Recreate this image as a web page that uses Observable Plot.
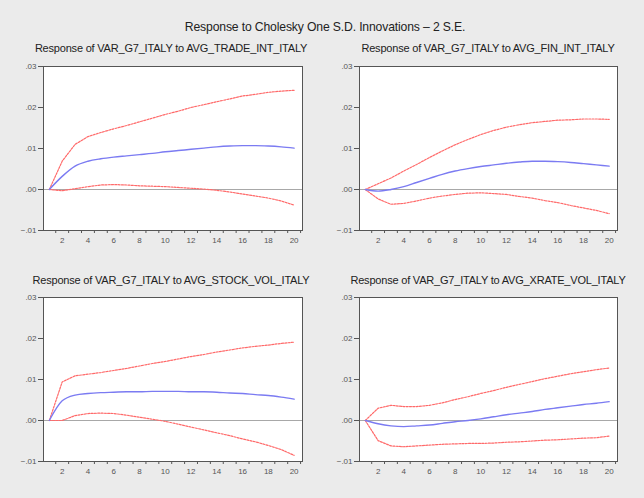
<!DOCTYPE html>
<html>
<head>
<meta charset="utf-8">
<script src="https://cdn.jsdelivr.net/npm/d3@7"></script>
<script src="https://cdn.jsdelivr.net/npm/@observablehq/plot@0.6"></script>
<style>
  html, body { margin: 0; padding: 0; background: #ebebeb; }
  #chart { position: relative; width: 644px; height: 498px; background: #ebebeb;
           font-family: "Liberation Sans", Arial, sans-serif; color: #222; overflow: hidden; }
  .title { position: absolute; white-space: nowrap; transform: translateX(-50%); }
  .main { font-size: 12.2px; top: 20px; left: 325px; letter-spacing: -0.15px; }
  .sub { font-size: 11px; letter-spacing: -0.2px; }
  .panel { position: absolute; }
</style>
</head>
<body>
<div id="chart"></div>
<script>
// Forecast horizon (periods)
const periods = [1, 2, 3, 4, 5, 6, 7, 8, 9, 10, 11, 12, 13, 14, 15, 16, 17, 18, 19, 20];

// Response of VAR_G7_ITALY to AVG_TRADE_INT_ITALY
const tradeResp  = [0, 0.0032, 0.0057, 0.0069, 0.0075, 0.0079, 0.0082, 0.0085, 0.0088, 0.0092, 0.0095, 0.0098, 0.0101, 0.0104, 0.0106, 0.0107, 0.0107, 0.0106, 0.0104, 0.0101];
const tradeUpper = [0, 0.0069, 0.0110, 0.0129, 0.0139, 0.0148, 0.0156, 0.0165, 0.0174, 0.0183, 0.0191, 0.0200, 0.0207, 0.0214, 0.0221, 0.0228, 0.0232, 0.0237, 0.0240, 0.0242];
const tradeLower = [0, -0.0003, 0.0002, 0.0007, 0.0011, 0.0012, 0.0011, 0.0009, 0.0008, 0.0007, 0.0005, 0.0003, 0.0001, -0.0002, -0.0006, -0.0011, -0.0016, -0.0021, -0.0028, -0.0038];

// Response of VAR_G7_ITALY to AVG_FIN_INT_ITALY
const finResp  = [0, -0.0004, 0.0000, 0.0007, 0.0017, 0.0027, 0.0037, 0.0045, 0.0051, 0.0056, 0.0060, 0.0064, 0.0067, 0.0069, 0.0069, 0.0068, 0.0066, 0.0063, 0.0060, 0.0057];
const finUpper = [0, 0.0014, 0.0028, 0.0045, 0.0061, 0.0078, 0.0094, 0.0109, 0.0122, 0.0134, 0.0144, 0.0152, 0.0158, 0.0163, 0.0166, 0.0169, 0.0170, 0.0172, 0.0172, 0.0171];
const finLower = [0, -0.0023, -0.0036, -0.0034, -0.0028, -0.0021, -0.0016, -0.0012, -0.0009, -0.0008, -0.0010, -0.0012, -0.0017, -0.0021, -0.0027, -0.0032, -0.0039, -0.0045, -0.0051, -0.0059];

// Response of VAR_G7_ITALY to AVG_STOCK_VOL_ITALY
const stockResp  = [0, 0.0048, 0.0062, 0.0066, 0.0068, 0.0069, 0.0070, 0.0070, 0.0071, 0.0071, 0.0071, 0.0070, 0.0070, 0.0069, 0.0067, 0.0066, 0.0063, 0.0061, 0.0057, 0.0052];
const stockUpper = [0, 0.0094, 0.0109, 0.0113, 0.0117, 0.0122, 0.0127, 0.0133, 0.0139, 0.0144, 0.0150, 0.0156, 0.0161, 0.0167, 0.0172, 0.0177, 0.0181, 0.0184, 0.0188, 0.0191];
const stockLower = [0, 0.0000, 0.0012, 0.0017, 0.0018, 0.0017, 0.0013, 0.0008, 0.0003, -0.0002, -0.0009, -0.0016, -0.0023, -0.0030, -0.0037, -0.0045, -0.0052, -0.0061, -0.0071, -0.0085];

// Response of VAR_G7_ITALY to AVG_XRATE_VOL_ITALY
const xrateResp  = [0, -0.0008, -0.0013, -0.0015, -0.0013, -0.0011, -0.0007, -0.0003, 0.0000, 0.0004, 0.0009, 0.0014, 0.0018, 0.0022, 0.0027, 0.0031, 0.0035, 0.0039, 0.0042, 0.0046];
const xrateUpper = [0, 0.0030, 0.0037, 0.0034, 0.0034, 0.0037, 0.0043, 0.0051, 0.0058, 0.0066, 0.0073, 0.0081, 0.0088, 0.0095, 0.0102, 0.0108, 0.0114, 0.0119, 0.0124, 0.0128];
const xrateLower = [0, -0.0049, -0.0062, -0.0064, -0.0062, -0.0060, -0.0058, -0.0057, -0.0056, -0.0056, -0.0055, -0.0053, -0.0052, -0.0050, -0.0048, -0.0047, -0.0045, -0.0043, -0.0042, -0.0038];

// Axis ticks
const yTicks = [-0.01, 0.00, 0.01, 0.02, 0.03];
const xLabelTicks = [2, 4, 6, 8, 10, 12, 14, 16, 18, 20];
const xTickMarks = [1.5, 2.5, 3.5, 4.5, 5.5, 6.5, 7.5, 8.5, 9.5, 10.5, 11.5, 12.5, 13.5, 14.5, 15.5, 16.5, 17.5, 18.5, 19.5, 20.5];

const mainTitle = "Response to Cholesky One S.D. Innovations \u2013 2 S.E.";
const panelTitles = [
  "Response of VAR_G7_ITALY to AVG_TRADE_INT_ITALY",
  "Response of VAR_G7_ITALY to AVG_FIN_INT_ITALY",
  "Response of VAR_G7_ITALY to AVG_STOCK_VOL_ITALY",
  "Response of VAR_G7_ITALY to AVG_XRATE_VOL_ITALY"
];

const panels = [
  {title: panelTitles[0], resp: tradeResp, upper: tradeUpper, lower: tradeLower, left: 0,   top: 56,  width: 320, mL: 43, mR: 18, titleX: 171, titleY: 42},
  {title: panelTitles[1], resp: finResp,   upper: finUpper,   lower: finLower,   left: 320, top: 56,  width: 324, mL: 39, mR: 27, titleX: 488, titleY: 42},
  {title: panelTitles[2], resp: stockResp, upper: stockUpper, lower: stockLower, left: 0,   top: 287, width: 320, mL: 43, mR: 18, titleX: 171, titleY: 274},
  {title: panelTitles[3], resp: xrateResp, upper: xrateUpper, lower: xrateLower, left: 320, top: 287, width: 324, mL: 39, mR: 27, titleX: 488, titleY: 274}
];

const fmtY = d => d3.format(".2f")(d).replace("0.", ".");

const chart = document.getElementById("chart");

const mt = document.createElement("div");
mt.className = "title main";
mt.textContent = mainTitle;
chart.appendChild(mt);

for (const p of panels) {
  const t = document.createElement("div");
  t.className = "title sub";
  t.style.left = p.titleX + "px";
  t.style.top = p.titleY + "px";
  t.textContent = p.title;
  chart.appendChild(t);

  const rows = periods.map((x, i) => ({x, resp: p.resp[i], upper: p.upper[i], lower: p.lower[i]}));

  const svg = Plot.plot({
    width: p.width,
    height: 198,
    marginLeft: p.mL,
    marginRight: p.mR,
    marginTop: 10,
    marginBottom: 24,
    style: {background: "transparent", fontFamily: "Liberation Sans, Arial, sans-serif", color: "#444"},
    x: {domain: [0.55, 20.65], axis: null},
    y: {domain: [-0.01, 0.03], axis: null},
    marks: [
      Plot.frame({fill: "white", stroke: null}),
      Plot.ruleY([0], {stroke: "#a8a8a8", strokeWidth: 1}),
      Plot.line(rows, {x: "x", y: "upper", stroke: "#ff6a6a", strokeWidth: 1.2, strokeDasharray: "2,1.3"}),
      Plot.line(rows, {x: "x", y: "lower", stroke: "#ff6a6a", strokeWidth: 1.2, strokeDasharray: "2,1.3"}),
      Plot.line(rows, {x: "x", y: "resp", stroke: "#7b7bf2", strokeWidth: 1.4, curve: "monotone-x"}),
      Plot.frame({stroke: "#555", strokeWidth: 1}),
      Plot.axisX(xTickMarks, {tickSize: 3, tickFormat: () => "", stroke: "#555", label: null}),
      Plot.axisX(xLabelTicks, {tickSize: 0, tickPadding: 7, fontSize: 8, fill: "#555", label: null}),
      Plot.axisY(yTicks, {tickSize: 5, tickPadding: 2, tickFormat: fmtY, fontSize: 8, fill: "#555", stroke: "#555", label: null})
    ]
  });
  const wrap = document.createElement("div");
  wrap.className = "panel";
  wrap.style.left = p.left + "px";
  wrap.style.top = p.top + "px";
  wrap.appendChild(svg);
  chart.appendChild(wrap);
}
</script>
</body>
</html>
